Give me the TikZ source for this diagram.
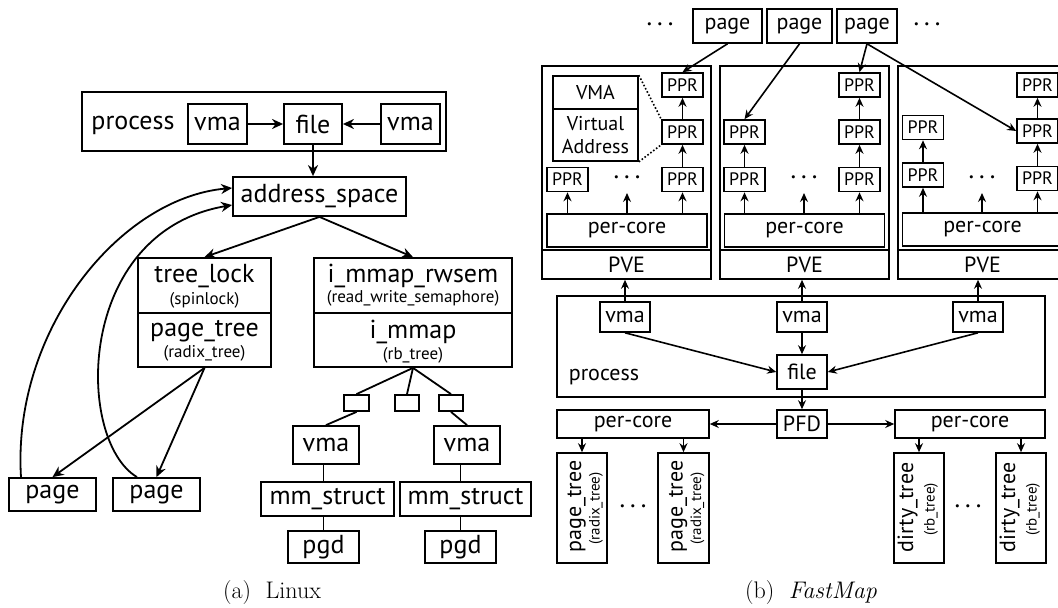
\documentclass[tikz,border=0pt]{standalone}
\usepackage{fontspec}
\newfontfamily\ptsans{PT Sans}
\usetikzlibrary{arrows.meta}
\newcommand\szL{\ptsans\fontsize{26}{28}\selectfont}
\newcommand\szLs{\ptsans\fontsize{17}{19}\selectfont}
\newcommand\szR{\ptsans\fontsize{22}{24}\selectfont}
\newcommand\szRs{\ptsans\fontsize{15}{17}\selectfont}
\newcommand\szP{\ptsans\fontsize{18}{20}\selectfont}
\newcommand\szV{\ptsans\fontsize{20}{23.5}\selectfont}
\newcommand\szD{\fontsize{22}{24}\selectfont\boldmath}
\newcommand\szCap{\fontsize{24}{26}\selectfont}
\tikzset{
  bx/.style 2 args={draw, line width=1.8pt, inner sep=0pt, minimum width=#1pt, minimum height=#2pt},
  rb/.style 2 args={draw, line width=1.6pt, inner sep=0pt, minimum width=#1pt, minimum height=#2pt},
  tx/.style={inner sep=0pt},
  la/.style={-{Stealth[length=11pt,width=10pt,inset=3.5pt]}, line width=1.8pt},
  ra/.style={-{Stealth[length=9pt,width=8pt,inset=3pt]}, line width=1.6pt},
  ln/.style={line width=1.8pt},
  dotl/.style={dotted, line width=1.6pt},
}
\begin{document}
\begin{tikzpicture}[x=1pt,y=-1pt]
\useasboundingbox (0,0) rectangle (1058,608);
\clip (0,0) rectangle (1058,608);

% ================= (a) Linux =================
\node[bx={364}{59}] (procL) at (264,121.5) {};
\node[tx,font=\szL] (procLT) at (133,125) {process};
\node[bx={59}{40},font=\szL] (vmaL1) at (217.5,124) {vma};
\node[bx={58}{40},font=\szL] (fileL) at (313,124) {file};
\node[bx={59}{40},font=\szL] (vmaL2) at (410.5,124) {vma};
\node[bx={173}{39},font=\szL] (asp) at (319.5,196.5) {address\_space};

\node[bx={133}{55}] (tl) at (204.5,285.5) {};
\node[bx={133}{54}] (pt) at (204.5,340) {};
\node[tx,font=\szL] (tlT) at (204.5,276) {tree\_lock};
\node[tx,font=\szLs] (tlS) at (204.5,300) {(spinlock)};
\node[tx,font=\szL] (ptT) at (204.5,331) {page\_tree};
\node[tx,font=\szLs] (ptS) at (204.5,353) {(radix\_tree)};

\node[bx={198}{55}] (rw) at (413,285.5) {};
\node[bx={198}{54}] (im) at (413,340) {};
\node[tx,font=\szL] (rwT) at (413,275.5) {i\_mmap\_rwsem};
\node[tx,font=\szLs] (rwS) at (413,298) {(read\_write\_semaphore)};
\node[tx,font=\szL] (imT) at (413,331.5) {i\_mmap};
\node[tx,font=\szLs] (imS) at (413,355) {(rb\_tree)};

\node[bx={25}{16}] (sb1) at (356.5,403) {};
\node[bx={24}{16}] (sb2) at (407,403) {};
\node[bx={24}{16}] (sb3) at (451,403) {};
\node[bx={66}{38},font=\szL] (vmaA) at (326,445) {vma};
\node[bx={66}{38},font=\szL] (vmaB) at (467,445) {vma};
\node[bx={133}{34},font=\szL] (mmA) at (327.5,499) {mm\_struct};
\node[bx={131}{34},font=\szL] (mmB) at (465.5,499) {mm\_struct};
\node[bx={71}{32},font=\szL] (pgdA) at (323.5,547) {pgd};
\node[bx={71}{32},font=\szL] (pgdB) at (460.5,547) {pgd};
\node[bx={87}{33},font=\szL] (page1) at (52.5,494.5) {page};
\node[bx={87}{33},font=\szL] (page2) at (156.5,494.5) {page};

\draw[la] (vmaL1) -- (fileL);
\draw[la] (vmaL2) -- (fileL);
\draw[la] (fileL) -- (fileL.south |- asp.north);
\draw[la] (asp.south) -- (tl.north);
\draw[la] (asp.south) -- (rw.north);
\draw[la] (pt.south) -- (page1.north);
\draw[la] (pt.south) -- (page2.north);
\draw[la] ([xshift=-31.5pt]page1.north) .. controls (12,330) and (120,198) .. ([yshift=8.5pt]asp.west);
\draw[la] ([xshift=-19.5pt]page2.north) .. controls (75,440) and (75,232) .. ([yshift=-8.5pt]asp.west);
\draw[ln] (im.south) -- (sb1.north);
\draw[ln] (im.south) -- (sb2.north);
\draw[ln] (im.south) -- (sb3.north);
\draw[ln] (sb1.south) -- (vmaA.north);
\draw[ln] (sb3.south) -- (vmaB.north);
\draw[ln] (vmaA.south -| pgdA.north) -- (mmA.north -| pgdA.north);
\draw[ln] (mmA.south -| pgdA.north) -- (pgdA.north);
\draw[ln] (vmaB.south -| pgdB.north) -- (mmB.north -| pgdB.north);
\draw[ln] (mmB.south -| pgdB.north) -- (pgdB.north);

\node[font=\szCap] (capA) at (272,593) {(a)\hspace{0.6em}Linux};

% ================= (b) FastMap =================
\node[tx,font=\szD] (dtA) at (660,25) {$\cdots$};
\node[tx,font=\szD] (dtB) at (927,25) {$\cdots$};
\node[rb={69}{34},font=\szR] (pgA) at (727.5,26) {page};
\node[rb={65}{34},font=\szR] (pgB) at (799.5,26) {page};
\node[rb={60}{34},font=\szR] (pgC) at (867,26) {page};

% panels
\node[rb={169}{184}] (pan1) at (626.5,158) {};
\node[rb={169}{29},font=\szR] (pve1) at (626.5,264.5) {PVE};
\node[rb={160}{33},font=\szR] (pc1) at (627,230.5) {per-core};
\node[rb={169}{184}] (pan2) at (804.5,158) {};
\node[rb={169}{29},font=\szR] (pve2) at (804.5,264.5) {PVE};
\node[rb={160}{33},font=\szR] (pc2) at (804.5,230.5) {per-core};
\node[rb={169}{184}] (pan3) at (982.5,158) {};
\node[rb={169}{29},font=\szR] (pve3) at (982.5,264.5) {PVE};
\node[rb={160}{33},font=\szR] (pc3) at (982.5,229.5) {per-core};

% panel 1
\node[rb={85}{33},font=\szV] (VMAh) at (595.5,92.5) {VMA};
\node[rb={85}{52},font=\szV,align=center] (VMAb) at (595.5,135) {Virtual\\Address};
\node[rb={41}{24},font=\szP] (P1t) at (682.5,85) {PPR};
\node[rb={41}{24},font=\szP] (P1m) at (682.5,132) {PPR};
\node[rb={41}{24},font=\szP] (P1l) at (682.5,179.5) {PPR};
\node[rb={41}{24},font=\szP] (P1a) at (567.5,179.5) {PPR};
\node[tx,font=\szD] (dP1) at (627,178) {$\cdots$};
\coordinate (eP1) at (627,193);
\draw[dotl] (VMAh.north east) -- (P1m.north west);
\draw[dotl] (VMAb.south east) -- (P1m.south west);
\draw[ra] (P1l) -- (P1m);
\draw[ra] (P1m) -- (P1t);
\draw[ra] (pc1.north -| P1a) -- (P1a.south);
\draw[ra] (pc1.north -| eP1) -- (eP1);
\draw[ra] (pc1.north -| P1l) -- (P1l.south);

% panel 2
\node[rb={41}{24},font=\szP] (P2t) at (859.5,85) {PPR};
\node[rb={41}{24},font=\szP] (P2m) at (859.5,132) {PPR};
\node[rb={41}{24},font=\szP] (P2l) at (859.5,179.5) {PPR};
\node[rb={41}{24},font=\szP] (P2b) at (744.5,132) {PPR};
\node[rb={41}{24},font=\szP] (P2a) at (744.5,179.5) {PPR};
\node[tx,font=\szD] (dP2) at (804,178) {$\cdots$};
\coordinate (eP2) at (804,193);
\draw[ra] (P2l) -- (P2m);
\draw[ra] (P2m) -- (P2t);
\draw[ra] (P2a) -- (P2b);
\draw[ra] (pc2.north -| P2a) -- (P2a.south);
\draw[ra] (pc2.north -| eP2) -- (eP2);
\draw[ra] (pc2.north -| P2l) -- (P2l.south);

% panel 3
\node[rb={41}{24},font=\szP] (P3t) at (1037.5,85) {PPR};
\node[rb={41}{24},font=\szP] (P3m) at (1037.5,131) {PPR};
\node[rb={41}{24},font=\szP] (P3l) at (1037.5,178.5) {PPR};
\node[rb={41}{24},font=\szP] (P3b) at (923,127.5) {PPR};
\node[rb={41}{24},font=\szP] (P3a) at (923,175) {PPR};
\node[tx,font=\szD] (dP3) at (982,178) {$\cdots$};
\coordinate (eP3) at (982,193);
\draw[ra] (P3l) -- (P3m);
\draw[ra] (P3m) -- (P3t);
\draw[ra] (P3a) -- (P3b);
\draw[ra] (pc3.north -| P3a) -- (P3a.south);
\draw[ra] (pc3.north -| eP3) -- (eP3);
\draw[ra] (pc3.north -| P3l) -- (P3l.south);

% page arrows
\draw[ra] (pgA.south) -- (P1t.north);
\draw[ra] (pgB.south) -- (P2b.north);
\draw[ra] (pgC.south) -- (P2t.north);
\draw[ra] (pgC.south) -- (P3m.west);

% process
\node[rb={488}{101}] (procR) at (801,346.5) {};
\node[tx,font=\szR] (procRT) at (604,377) {process};
\node[rb={50}{30},font=\szR] (vmaR1) at (625,317) {vma};
\node[rb={50}{30},font=\szR] (vmaR2) at (802,317) {vma};
\node[rb={50}{30},font=\szR] (vmaR3) at (978,317) {vma};
\node[rb={50}{34},font=\szR] (fileR) at (802,372) {file};
\draw[ra] (vmaR1.south) -- (fileR.west);
\draw[ra] (vmaR2) -- (fileR);
\draw[ra] (vmaR3.south) -- (fileR.east);
\draw[ra] (vmaR1.north) -- (vmaR1.north |- pve1.south);
\draw[ra] (vmaR2.north) -- (vmaR2.north |- pve2.south);
\draw[ra] (vmaR3.north) -- (vmaR3.north |- pve3.south);

\node[rb={50}{28},font=\szR] (PFD) at (802,424) {PFD};
\node[rb={152}{28},font=\szR] (pcL) at (633,424) {per-core};
\node[rb={150}{28},font=\szR] (pcR) at (970,424) {per-core};
\draw[ra] (fileR) -- (PFD);
\draw[ra] (PFD) -- (pcL);
\draw[ra] (PFD) -- (pcR);

\node[rb={50}{110}] (tr1) at (582,508) {};
\node[rb={51}{110}] (tr2) at (683.5,508) {};
\node[rb={50}{110}] (tr3) at (919,508) {};
\node[rb={50}{110}] (tr4) at (1021,508) {};
\node[tx,font=\szR,rotate=90] (tr1T) at (576.5,506.5) {page\_tree};
\node[tx,font=\szRs,rotate=90] (tr1S) at (596,508.5) {(radix\_tree)};
\node[tx,font=\szR,rotate=90] (tr2T) at (678,506.5) {page\_tree};
\node[tx,font=\szRs,rotate=90] (tr2S) at (697.5,508.5) {(radix\_tree)};
\node[tx,font=\szR,rotate=90] (tr3T) at (907.5,507.5) {dirty\_tree};
\node[tx,font=\szRs,rotate=90] (tr3S) at (931,509.5) {(rb\_tree)};
\node[tx,font=\szR,rotate=90] (tr4T) at (1009.5,507.5) {dirty\_tree};
\node[tx,font=\szRs,rotate=90] (tr4S) at (1033,509.5) {(rb\_tree)};
\node[tx,font=\szD] (dT1) at (633,507) {$\cdots$};
\node[tx,font=\szD] (dT2) at (968,507) {$\cdots$};
\draw[ra] (pcL.south -| tr1) -- (tr1.north);
\draw[ra] (pcL.south -| tr2) -- (tr2.north);
\draw[ra] (pcR.south -| tr3) -- (tr3.north);
\draw[ra] (pcR.south -| tr4) -- (tr4.north);

\node[font=\szCap] (capB) at (811,593) {(b)\hspace{0.6em}\textit{FastMap}};
\end{tikzpicture}
\end{document}
